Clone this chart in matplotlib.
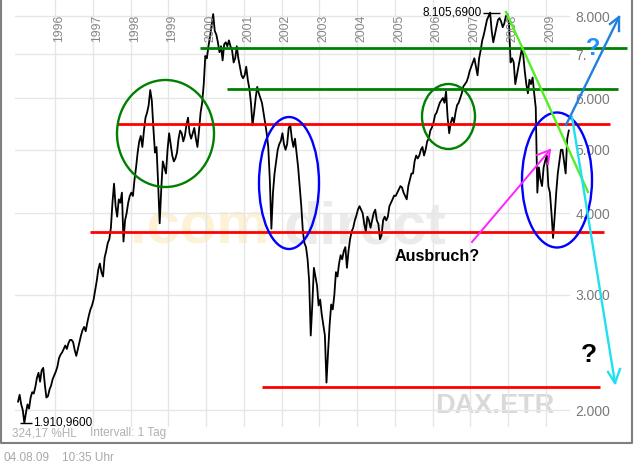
import numpy as np
import matplotlib.pyplot as plt
from matplotlib.patches import Ellipse
from matplotlib.ticker import NullLocator

plt.rcParams['font.family'] = ['Liberation Sans', 'DejaVu Sans']

#### DATA  (DAX, two readings per month)
dax_1995 = [2060, 2110, 2040, 2000, 1911, 1980, 2040, 2010, 2090, 2130, 2120, 2170,
            2240, 2280, 2210, 2300, 2320, 2190, 2090, 2100, 2150, 2180, 2230, 2260]
dax_1996 = [2290, 2330, 2400, 2430, 2450, 2480, 2510, 2480, 2530, 2560, 2560, 2540,
            2470, 2420, 2480, 2540, 2600, 2650, 2680, 2640, 2720, 2790, 2850, 2890]
dax_1997 = [2950, 3050, 3150, 3280, 3350, 3250, 3200, 3420, 3500, 3600, 3650, 3800,
            4150, 4438, 4100, 3950, 4200, 4150, 4300, 3620, 3900, 4000, 4150, 4250]
dax_1998 = [4300, 4250, 4500, 4700, 4950, 5150, 5250, 5050, 5350, 5600, 5700, 5850,
            6171, 5950, 5400, 4950, 5050, 4450, 3860, 4350, 4800, 4700, 4600, 5000]
dax_1999 = [5300, 5100, 4900, 4800, 4850, 4950, 5200, 5350, 5300, 5150, 5250, 5450,
            5600, 5300, 5200, 5300, 5400, 5200, 5050, 5350, 5700, 5900, 6300, 6958]
dax_2000 = [6900, 7200, 7450, 7750, 8065, 7600, 7500, 7300, 7050, 7200, 6850, 7250,
            7300, 7200, 7350, 7200, 7100, 6800, 6900, 7200, 6900, 6700, 6500, 6434]
dax_2001 = [6500, 6700, 6400, 6200, 5900, 5450, 5700, 6000, 6240, 6100, 6000, 5900,
            5700, 5500, 5300, 5050, 4500, 3787, 4300, 4600, 4800, 5000, 5100, 5160]
dax_2002 = [5300, 5100, 5000, 5100, 5400, 5450, 5200, 5050, 5200, 4950, 4700, 4400,
            4100, 3750, 3600, 3550, 3400, 3150, 2600, 2900, 3300, 3200, 3100, 2890]
dax_2003 = [2950, 2800, 2700, 2600, 2203, 2450, 2700, 2900, 2850, 3000, 3250, 3200,
            3350, 3450, 3400, 3500, 3550, 3300, 3500, 3650, 3750, 3800, 3900, 3965]
dax_2004 = [4050, 4100, 4050, 4000, 3850, 3750, 3950, 3900, 3800, 3900, 4000, 4050,
            3900, 3850, 3650, 3700, 3900, 3950, 3900, 3950, 4100, 4150, 4200, 4256]
dax_2005 = [4250, 4300, 4350, 4400, 4380, 4300, 4250, 4200, 4400, 4500, 4600, 4600,
            4800, 4900, 4850, 4900, 5000, 5050, 4900, 5000, 5150, 5200, 5350, 5408]
dax_2006 = [5500, 5650, 5700, 5800, 5900, 5950, 6000, 5900, 6140, 5600, 5300, 5500,
            5600, 5500, 5700, 5850, 5900, 6000, 6100, 6250, 6300, 6350, 6450, 6597]
dax_2007 = [6700, 6800, 6900, 6700, 6500, 6900, 7100, 7350, 7500, 7700, 7900, 8000,
            8105.69, 7600, 7300, 7500, 7700, 7900, 7950, 7850, 7700, 7800, 8000, 8067]
dax_2008 = [7800, 6800, 6900, 6800, 6300, 6500, 6700, 6900, 7100, 7000, 6600, 6300,
            6100, 6400, 6300, 6450, 6100, 5800, 4300, 4700, 4500, 4400, 4700, 4810]
dax_2009 = [4900, 4400, 4300, 4000, 3666, 3950, 4300, 4600, 4800, 5000, 5000, 4800,
            4600, 5200, 5350]

dax = (dax_1995 + dax_1996 + dax_1997 + dax_1998 + dax_1999 + dax_2000 + dax_2001 +
       dax_2002 + dax_2003 + dax_2004 + dax_2005 + dax_2006 + dax_2007 + dax_2008 + dax_2009)
dax = np.array(dax, dtype=float)
years = 1995 + (np.arange(len(dax)) + 0.5) / 24

year_labels = list(range(1996, 2010))
price_ticks = [2000, 3000, 4000, 5000, 6000, 7000, 8000]
price_labels = ['2.000', '3.000', '4.000', '5.000', '6.000', '7.', '8.000']
low_label = '1.910,9600'
high_label = '8.105,6900'

# hand drawn support / resistance levels: (price, from year, to year)
red_levels = [(5485, 1997.64, 2010.70), (3744, 1996.93, 2010.54), (2172, 2001.48, 2010.43)]
green_levels = [(7154, 1999.84, 2011.14), (6202, 2000.55, 2010.90)]


####PLOTTING
W, H = 634, 466
fig = plt.figure(figsize=(W / 100, H / 100), dpi=100)
fig.patch.set_facecolor('white')

ax = fig.add_axes([15 / W, 39 / H, 555 / W, 427 / H])
ax.set_yscale('log')
ax.set_xlim(1994.94, 2009.636)
ax.set_ylim(1884, 8473)
for s in ax.spines.values():
    s.set_visible(False)

ax.set_xticks(year_labels)
ax.set_xticklabels([])
ax.set_yticks(price_ticks)
ax.yaxis.set_minor_locator(NullLocator())
ax.yaxis.tick_right()
ax.set_yticklabels(price_labels, color='#7a7a7a', fontsize=10)
ax.tick_params(length=0, pad=4)
ax.tick_params(axis='x', length=0)
ax.grid(True, color='#e6e6e6', lw=1)

for yr in year_labels:
    ax.text(yr + 0.11, 0.966, str(yr), rotation=90, ha='center', va='top',
            fontsize=8.7, color='#858585', transform=ax.get_xaxis_transform())

# watermark
ax.text(130 / W, 1 - 243 / H, '.com', transform=fig.transFigure, fontsize=43,
        fontweight='bold', color='#fdf2d6', va='baseline', zorder=1)
ax.text(283 / W, 1 - 243 / H, 'direct', transform=fig.transFigure, fontsize=43,
        fontweight='bold', color='#ebebeb', va='baseline', zorder=1)
ax.text(435 / W, 1 - 413 / H, 'DAX.ETR', transform=fig.transFigure, fontsize=19.5,
        fontweight='bold', color='#d9d9d9', va='baseline', zorder=1)

ax.plot(years, dax, color='black', lw=1.3, zorder=2)

# min / max markers
i_lo = int(np.argmin(dax))
i_hi = int(np.argmax(dax))
ax.hlines(dax[i_lo], years[i_lo] - 0.11, years[i_lo] + 0.2, color='black', lw=1, clip_on=False)
ax.text(years[i_lo] + 0.22, dax[i_lo], low_label, va='center', ha='left', fontsize=8.5)
ax.hlines(dax[i_hi], years[i_hi] - 0.19, years[i_hi] + 0.27, color='black', lw=1, clip_on=False)
ax.text(years[i_hi] - 0.22, dax[i_hi], high_label, va='center', ha='right', fontsize=8.5)

for p, a, b in red_levels:
    ax.hlines(p, a, b, color='#ff0000', lw=2, clip_on=False, zorder=4)
for p, a, b in green_levels:
    ax.hlines(p, a, b, color='#008000', lw=2, clip_on=False, zorder=4)

# overlay for the hand drawings, pixel coordinates
ov = fig.add_axes([0, 0, 1, 1], facecolor='none')
ov.set_xlim(0, W)
ov.set_ylim(H, 0)
ov.axis('off')

ov.plot([1, 1, 632, 632], [0, 443, 443, 0], color='#7f7f7f', lw=1.5)

for cx, cy, w, h, c in [(165.5, 133.5, 97, 107, '#008000'), (448.5, 116.5, 53, 65, '#008000'),
                        (289, 183, 60, 132, '#0000ff'), (557, 180, 70, 135, '#0000ff')]:
    ov.add_patch(Ellipse((cx, cy), w, h, fill=False, edgecolor=c, lw=1.7))

ov.plot([506, 588], [12, 192], color='#55ee22', lw=1.7)
# cyan arrow down
ov.plot([572, 615], [117, 383], color='#20e0f0', lw=1.7)
ov.plot([608, 615, 620], [372, 383, 369], color='#20e0f0', lw=1.7)
# blue arrow up
ov.plot([566, 619], [125, 17], color='#1f80e0', lw=1.7)
ov.plot([610, 619, 619], [24, 17, 31], color='#1f80e0', lw=1.7)
# magenta arrow
ov.plot([472, 550], [242, 150], color='#ff22ff', lw=1.4)
ov.plot([537, 550, 548], [155, 150, 164], color='#ff22ff', lw=1.4)

ov.text(395, 261, 'Ausbruch?', fontsize=11.6, fontweight='bold', va='baseline')
ov.text(581, 362, '?', fontsize=19, fontweight='bold', va='baseline')
ov.text(586, 55, '?', fontsize=17, fontweight='bold', color='#1e90ff', va='baseline')

ov.text(12, 436, '324,17 %HL', fontsize=8.5, color='#b0b0b0', va='baseline')
ov.text(90, 436, 'Intervall: 1 Tag', fontsize=8.5, color='#b0b0b0', va='baseline')
ov.text(3, 461, '04.08.09', fontsize=8.5, color='#a8a8a8', va='baseline')
ov.text(62, 461, '10:35 Uhr', fontsize=8.5, color='#a8a8a8', va='baseline')

fig.savefig('out.png', dpi=100)
